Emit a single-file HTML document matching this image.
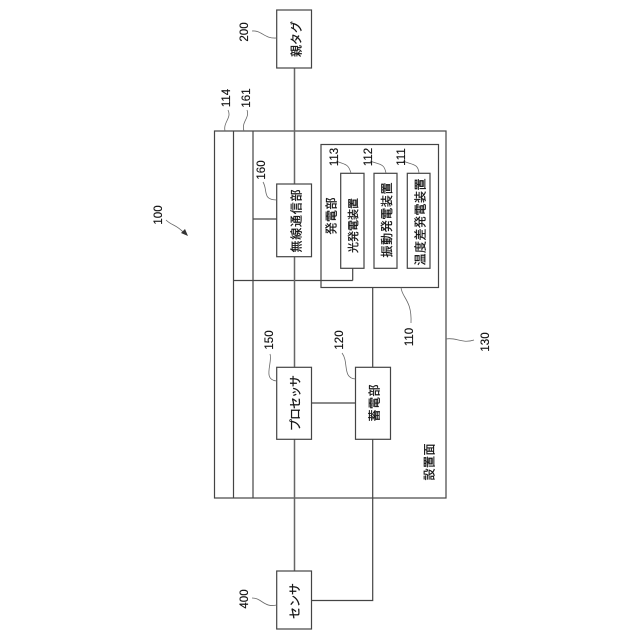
<!DOCTYPE html>
<html>
<head>
<meta charset="utf-8">
<style>
html,body{margin:0;padding:0;background:#fff;width:640px;height:640px;overflow:hidden}
svg{display:block}
text{font-family:"Liberation Sans","Noto Sans CJK JP",sans-serif;fill:#111;stroke:#111;stroke-width:0.15;text-anchor:middle;dominant-baseline:central}
.n{font-size:11.5px}
.j{font-size:12px;stroke-width:0.25}
.s{font-size:11px;stroke-width:0.25}
</style>
</head>
<body>
<svg width="640" height="640" viewBox="0 0 640 640" xmlns="http://www.w3.org/2000/svg">
<g fill="none" stroke="#444" stroke-width="1.2">
<rect x="214.5" y="131" width="231.5" height="367"/>
<line x1="233.5" y1="131" x2="233.5" y2="498"/>
<line x1="253" y1="131" x2="253" y2="498"/>
<rect x="321" y="144.5" width="117.5" height="143"/>
<line x1="233.5" y1="280.5" x2="352.7" y2="280.5"/>
<line x1="352.7" y1="268" x2="352.7" y2="280.5"/>
<line x1="253" y1="219" x2="277" y2="219"/>
<line x1="311.5" y1="403" x2="355.5" y2="403"/>
<polyline points="372.7,287.5 372.7,600.5 311.5,600.5"/>
</g>
<line x1="294.5" y1="68" x2="294.5" y2="571" stroke="#666" stroke-width="1.5"/>
<g fill="#fff" stroke="#444" stroke-width="1.2">
<rect x="276.7" y="10" width="34.8" height="58"/>
<rect x="276.7" y="184" width="34.8" height="72.7"/>
<rect x="276.7" y="367.3" width="34.8" height="72"/>
<rect x="355.5" y="367.3" width="35" height="72"/>
<rect x="276.7" y="571" width="34.8" height="58"/>
<rect x="340.7" y="173.3" width="23.3" height="95"/>
<rect x="374" y="173.3" width="23" height="95"/>
<rect x="407.3" y="173.3" width="22.7" height="95"/>
</g>
<g fill="none" stroke="#666" stroke-width="0.8">
<path d="M252 31 C262 30 264 39 276.7 38"/>
<path d="M228 110 C232 118 223 122 225 131"/>
<path d="M247 110 C250 118 241 122 244 131"/>
<path d="M263 182 C268 190 262 200 276.7 200"/>
<path d="M336 161 C345 165 348 163 351 173"/>
<path d="M370 161 C380 165 384 163 386 173"/>
<path d="M403 161 C412 165 418 163 419 173"/>
<path d="M270 354 C273 362 262 380 276.7 381"/>
<path d="M342 353 C349 362 342 378 355.5 379"/>
<path d="M401 287.5 C402 298 412 300 411 323"/>
<path d="M446 339 C456 337 462 344 474 340"/>
<path d="M252 598 C262 598 264 608 276.7 605"/>
<path d="M166 220 C172 226 176 224 184 233"/>
</g>
<path d="M188 236 L181 233 L185 229 Z" fill="#333"/>
<g>
<text class="j" transform="translate(296.5 39) rotate(-90)" textLength="36">親タグ</text>
<text class="j" transform="translate(296.5 221) rotate(-90)" textLength="63">無線通信部</text>
<text class="j" transform="translate(331.5 216) rotate(-90)" textLength="37">発電部</text>
<text class="s" transform="translate(354 225.5) rotate(-90)" textLength="55">光発電装置</text>
<text class="j" transform="translate(387.2 220) rotate(-90)" textLength="75">振動発電装置</text>
<text class="j" transform="translate(420.5 222) rotate(-90)" textLength="87">温度差発電装置</text>
<text class="j" transform="translate(295.5 403) rotate(-90)" textLength="56">プロセッサ</text>
<text class="j" transform="translate(374.5 403) rotate(-90)" textLength="37">蓄電部</text>
<text class="j" transform="translate(429.5 462) rotate(-90)" textLength="37">設置面</text>
<text class="j" transform="translate(295 601) rotate(-90)" textLength="36">センサ</text>
</g>
<g>
<text class="n" transform="translate(245 32) rotate(-90)">200</text>
<text class="n" transform="translate(227 98) rotate(-90)">114</text>
<text class="n" transform="translate(247 98) rotate(-90)">161</text>
<text class="n" transform="translate(159 215) rotate(-90)">100</text>
<text class="n" transform="translate(262 170) rotate(-90)">160</text>
<text class="n" transform="translate(335 157) rotate(-90)">113</text>
<text class="n" transform="translate(369 157) rotate(-90)">112</text>
<text class="n" transform="translate(402 157) rotate(-90)">111</text>
<text class="n" transform="translate(270 340) rotate(-90)">150</text>
<text class="n" transform="translate(340 340) rotate(-90)">120</text>
<text class="n" transform="translate(410 337) rotate(-90)">110</text>
<text class="n" transform="translate(486 342) rotate(-90)">130</text>
<text class="n" transform="translate(245 599) rotate(-90)">400</text>
</g>
</svg>
</body>
</html>
